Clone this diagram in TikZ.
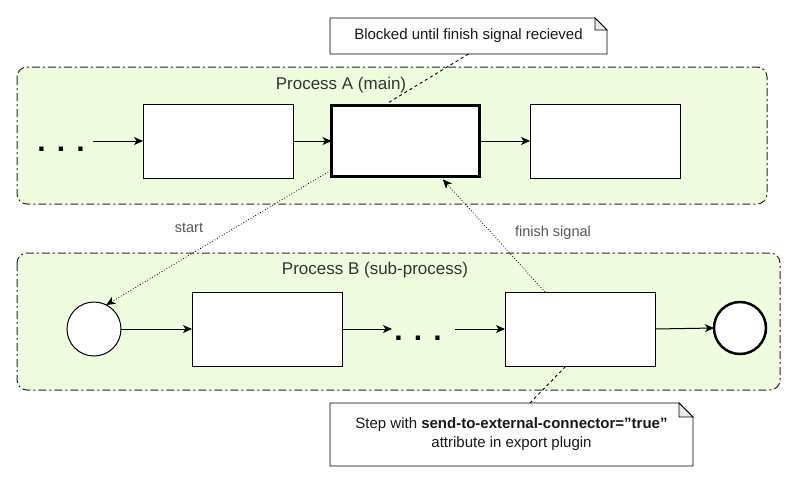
\documentclass[tikz,border=0pt]{standalone}
\usepackage{fontspec}
\setmainfont{Liberation Sans}
\usetikzlibrary{arrows.meta,calc}
\definecolor{grp}{RGB}{239,252,223}
\definecolor{lbl}{RGB}{51,51,51}
\definecolor{edgelbl}{RGB}{85,85,85}
\tikzset{
  container/.style={draw=black!85, line width=1pt, fill=grp, rounded corners=10pt,
    dash pattern=on 8pt off 3pt on 2pt off 3pt},
  stepbox/.style={draw, fill=white, line width=1pt, minimum width=150pt, minimum height=74pt, inner sep=0pt, outer sep=0pt},
  thickbox/.style={stepbox, line width=3pt, minimum width=148pt, minimum height=71pt},
  evt/.style={draw, fill=white, circle, line width=1pt, minimum size=54pt, inner sep=0pt, outer sep=0pt},
  endevt/.style={evt, line width=2.5pt, minimum size=52pt},
  flow/.style={line width=1pt, -{Stealth[length=9pt,width=8pt,inset=2.5pt]}},
  msg/.style={line width=0.8pt, dotted, -{Stealth[length=9pt,width=8pt,inset=2.5pt]}},
  assoc/.style={line width=0.9pt, dash pattern=on 3pt off 3pt},
  notebox/.style={inner sep=0pt, outer sep=0pt},
  notetext/.style={font=\fontsize{15}{19}\selectfont, text=black!90, align=center},
  grouptitle/.style={font=\fontsize{17}{20}\selectfont, text=lbl},
  edgetext/.style={font=\fontsize{14.5}{18}\selectfont, text=edgelbl},
  dots/.style={font=\fontsize{30}{30}\selectfont\bfseries, inner sep=0pt}
}
\begin{document}
\begin{tikzpicture}[x=1pt,y=-1pt]
\useasboundingbox (0,0) rectangle (801,483);
% containers
\draw[container] (17,67) rectangle (767,204);
\node[grouptitle] (ta) at (341,85) {Process A (main)};
\draw[container] (17,253) rectangle (780,390);
\node[grouptitle] (tb) at (375,270) {Process B (sub-process)};

% process A
\node[dots] (dA) at (61,149) {. . .};
\coordinate (fa) at (93,141);
\node[stepbox] (a1) at (218,141) {};
\node[thickbox] (a2) at (405.5,141) {};
\node[stepbox] (a3) at (605,141) {};
\draw[flow] (fa) -- (a1);
\draw[flow] (a1) -- (a2);
\draw[flow] (a2) -- (a3);

% process B
\node[evt] (c1) at (94,329) {};
\node[stepbox] (b1) at (267,329) {};
\node[dots] (dB) at (418,338) {. . .};
\coordinate (fb1) at (392,329);
\coordinate (fb2) at (455,329);
\node[stepbox] (b2) at (580,329) {};
\node[endevt] (c2) at (740,328) {};
\draw[flow] (c1) -- (b1);
\draw[flow] (b1.east) -- (fb1);
\draw[flow] (fb2) -- (b2.west);
\draw[flow] (b2.east) -- (c2.west);

% messages
\draw[msg] ($(a2.south west)+(-1,-6)$) -- (c1.63);
\node[edgetext] (ls) at (189,228) {start};
\draw[msg] ($(b2.north west)+(40,0)$) -- ($(a2.south)+(37.5,3)$);
\node[edgetext] (lf) at (553,233) {finish signal};

% note A
\node[notebox, minimum width=277pt, minimum height=36pt] (na) at (468.5,36) {};
\draw[line width=0.9pt, fill=white] (na.north west) -- ($(na.north east)+(-12,0)$) -- ($(na.north east)+(0,12)$) -- (na.south east) -- (na.south west) -- cycle;
\draw[line width=0.9pt, fill=black!8] ($(na.north east)+(-12,0)$) -- ($(na.north east)+(-12,12)$) -- ($(na.north east)+(0,12)$) -- cycle;
\node[notetext] at (na.center) {Blocked until finish signal recieved};
\draw[assoc] (na.south) -- ($(a2.north)+(-18.5,-2)$);

% note B
\node[notebox, minimum width=363pt, minimum height=63pt] (nb) at (511.5,434.5) {};
\draw[line width=0.9pt, fill=white] (nb.north west) -- ($(nb.north east)+(-14,0)$) -- ($(nb.north east)+(0,14)$) -- (nb.south east) -- (nb.south west) -- cycle;
\draw[line width=0.9pt, fill=black!8] ($(nb.north east)+(-14,0)$) -- ($(nb.north east)+(-14,14)$) -- ($(nb.north east)+(0,14)$) -- cycle;
\node[notetext] at (nb.center) {Step with \textbf{send-to-external-connector=\symbol{34}true\symbol{34}}\\attribute in export plugin};
\draw[assoc] ($(nb.north)+(18.5,0)$) -- ($(b2.south)+(-14,0)$);
\end{tikzpicture}
\end{document}
